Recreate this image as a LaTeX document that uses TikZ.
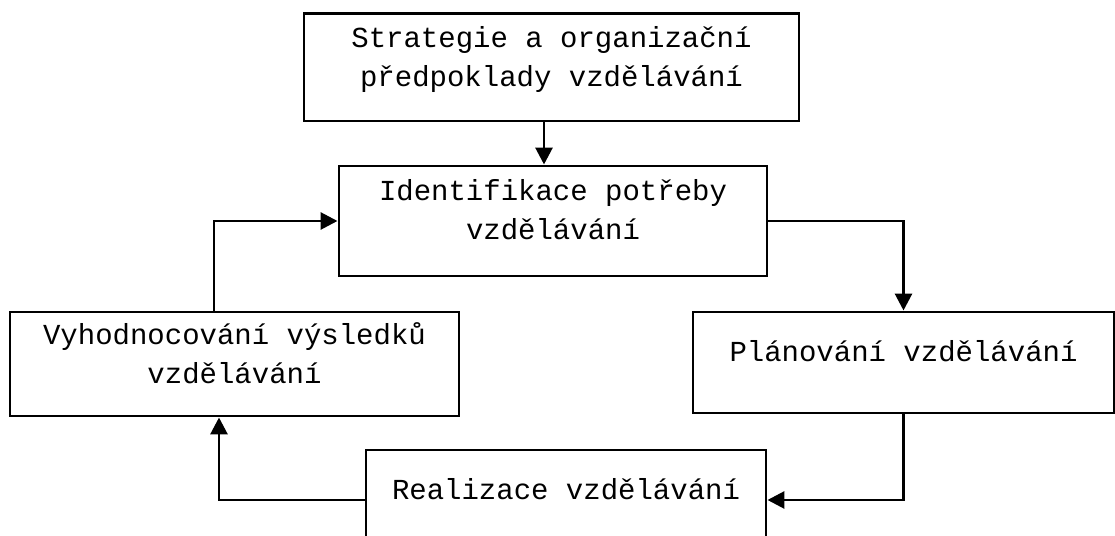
\documentclass[tikz,border=0pt]{standalone}
\usepackage{fontspec}
\setmonofont{Liberation Mono}
\usetikzlibrary{arrows.meta, positioning, calc}

\begin{document}
\begin{tikzpicture}[font=\ttfamily\fontsize{16.5}{22}\selectfont,
        krok/.style={draw=black, line width=1.7pt, align=center, text depth=0.45cm},
        sipka/.style={line width=1.7pt, -{Triangle[length=0.34cm, width=0.34cm]}}
    ]
        \useasboundingbox (0,0) rectangle (22.3,-10.72);

        \node[krok, minimum width=9.9cm,  minimum height=2.14cm] (strategie) at (11.03,-1.35)
            {Strategie a organizační\\předpoklady vzdělávání};
        \node[krok, minimum width=8.56cm, minimum height=2.2cm]  (identif)   at (11.06,-4.42)
            {Identifikace potřeby\\vzdělávání};
        \node[krok, minimum width=8.98cm, minimum height=2.08cm] (vyhodn)    at (4.69,-7.28)
            {Vyhodnocování výsledků\\vzdělávání};
        \node[krok, minimum width=8.42cm, minimum height=2.02cm] (planovani) at (18.07,-7.25)
            {Plánování vzdělávání};
        \node[krok, minimum width=8.0cm,  minimum height=2.0cm]  (realizace) at (11.32,-10.0)
            {Realizace vzdělávání};

        \draw[sipka] ([xshift=-0.15cm]strategie.south) -- ([xshift=-0.15cm]strategie.south |- identif.north);
        \draw[sipka] (identif.east) -| (planovani.north);
        \draw[sipka] (planovani.south) |- (realizace.east);
        \draw[sipka] (realizace.west) -| ([xshift=-0.31cm]vyhodn.south);
        \draw[sipka] ([xshift=-0.41cm]vyhodn.north) |- (identif.west);
    \end{tikzpicture}
\end{document}
